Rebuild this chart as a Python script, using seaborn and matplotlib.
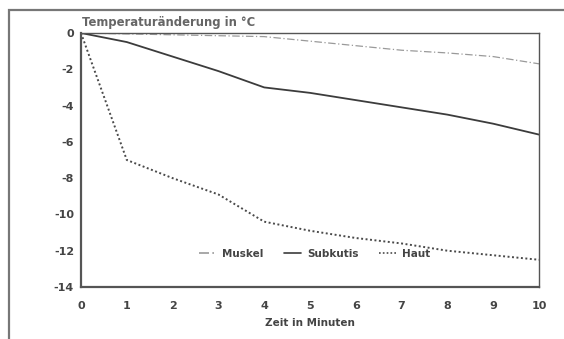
import matplotlib
matplotlib.use("Agg")
import matplotlib.pyplot as plt
from matplotlib.patches import Rectangle
import numpy as np
import pandas as pd
import seaborn as sns

sns.set_theme(style="white")
plt.rcParams['font.family'] = ['DejaVu Sans']

minutes = [0, 1, 2, 3, 4, 5, 6, 7, 8, 9, 10]
muskel = [0, -0.05, -0.1, -0.15, -0.2, -0.45, -0.7, -0.95, -1.1, -1.3, -1.7]
subkutis = [0, -0.5, -1.3, -2.1, -3.0, -3.3, -3.7, -4.1, -4.5, -5.0, -5.6]
haut = [0, -7.0, -8.0, -8.9, -10.4, -10.9, -11.3, -11.6, -12.0, -12.25, -12.5]
series = ["Muskel", "Subkutis", "Haut"]

df = pd.DataFrame({
    "Zeit": minutes * 3,
    "Wert": muskel + subkutis + haut,
    "Gewebe": [s for s in series for _ in minutes],
})

fig = plt.figure(figsize=(5.64, 3.39), dpi=100)
ax = fig.add_axes([0.1436, 0.1534, 0.8121, 0.7493])

palette = {"Muskel": "#9a9a9a", "Subkutis": "#3c3c3c", "Haut": "#4a4a4a"}
dashes = {"Muskel": (6, 2, 1, 2), "Subkutis": "", "Haut": (1, 1.3)}
sns.lineplot(data=df, x="Zeit", y="Wert", hue="Gewebe", style="Gewebe",
             palette=palette, dashes=dashes, ax=ax, linewidth=1.2)

for line, lw in zip(ax.get_lines()[:3], [0.9, 1.3, 1.4]):
    line.set_linewidth(lw)

ax.set_xlim(0, 10)
ax.set_ylim(-14, 0)
ax.set_xticks(range(0, 11))
ax.set_yticks(range(-14, 1, 2))
ax.set_yticklabels([str(v) if v == 0 else "-" + str(-v) for v in range(-14, 1, 2)])
ax.tick_params(direction="in", length=3, width=0.8, colors="#444444",
               labelsize=8)
ax.tick_params(axis="x", pad=10)
ax.tick_params(axis="y", pad=5)
for lab in ax.get_xticklabels() + ax.get_yticklabels():
    lab.set_fontweight("bold")
    lab.set_color("#444444")

for side, sp in ax.spines.items():
    sp.set_visible(True)
    sp.set_color("#555555")
    sp.set_linewidth(1.0 if side in ("top", "right") else 1.6)

ax.set_xlabel("Zeit in Minuten", fontsize=7.5, fontweight="bold", color="#444444", labelpad=5)
ax.set_ylabel("")
ax.text(0.003, 1.015, "Temperaturänderung in °C", transform=ax.transAxes,
        fontsize=8.4, fontweight="bold", color="#666666", ha="left", va="bottom")

handles, labels = ax.get_legend_handles_labels()
leg = ax.legend(handles, labels, loc="center", bbox_to_anchor=(0.51, 0.13), ncol=3,
                frameon=False, fontsize=7.5, handlelength=1.6, columnspacing=2.0,
                handletextpad=0.6)
for t in leg.get_texts():
    t.set_fontweight("bold")
    t.set_color("#444444")

fig.patches.append(Rectangle((0.016, -0.1), 1.2, 1.0705, transform=fig.transFigure,
                             fill=False, edgecolor="#777777", linewidth=1.6))

fig.savefig("out.png", dpi=100)
